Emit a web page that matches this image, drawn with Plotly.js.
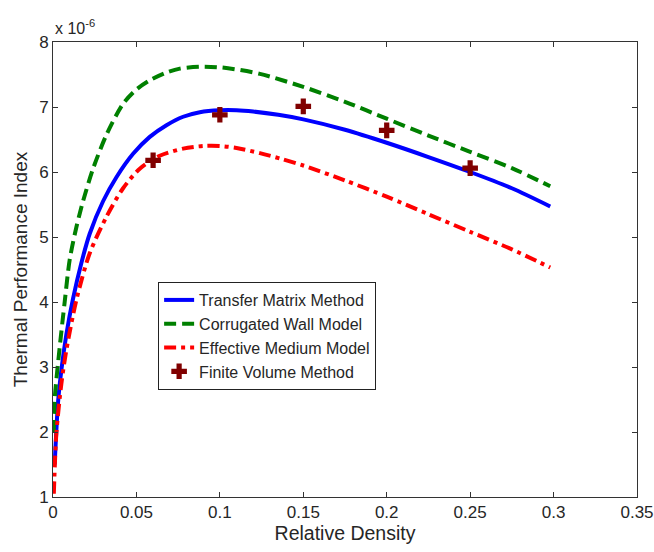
<!DOCTYPE html>
<html>
<head>
<meta charset="utf-8">
<script src="https://cdn.plot.ly/plotly-3.0.1.min.js"></script>
<style>html,body{margin:0;padding:0;background:#fff;}#chart{width:654px;height:552px;}</style>
</head>
<body>
<div id="chart"></div>
<script>
// Values in units of 1e-6
const tmmX = [0.001,0.003,0.005,0.008,0.012,0.017,0.022,0.030,0.038,0.048,0.058,0.068,0.078,0.088,0.1,0.11,0.12,0.135,0.15,0.175,0.2,0.225,0.25,0.275,0.298];
const tmmY = [1.5,2.45,2.95,3.5,4.05,4.6,5.05,5.55,5.92,6.28,6.54,6.72,6.85,6.92,6.95,6.95,6.93,6.88,6.81,6.65,6.45,6.23,6.0,5.75,5.47];

const cwmX = [0.0005,0.001,0.004,0.007,0.010,0.014,0.018,0.024,0.032,0.042,0.05,0.058,0.068,0.076,0.088,0.1,0.112,0.124,0.15,0.175,0.2,0.225,0.25,0.275,0.298];
const cwmY = [2.0,2.5,3.3,4.0,4.65,5.15,5.55,6.05,6.57,7.05,7.27,7.41,7.53,7.59,7.62,7.61,7.57,7.51,7.31,7.08,6.82,6.56,6.31,6.06,5.78];

const emmX = [0.0005,0.002,0.005,0.008,0.014,0.022,0.032,0.042,0.052,0.064,0.078,0.09,0.1,0.11,0.124,0.137,0.15,0.175,0.2,0.225,0.25,0.275,0.298];
const emmY = [1.05,1.97,2.74,3.26,4.03,4.75,5.31,5.75,6.05,6.25,6.36,6.40,6.40,6.37,6.29,6.2,6.10,5.87,5.62,5.35,5.08,4.81,4.53];

const fvmX = [0.06,0.1,0.15,0.2,0.25];
const fvmY = [6.18,6.88,7.01,6.64,6.06];

const xTicks = [0,0.05,0.1,0.15,0.2,0.25,0.3,0.35];
const xTickText = ['0','0.05','0.1','0.15','0.2','0.25','0.3','0.35'];
const yTicks = [1,2,3,4,5,6,7,8];

const font = 'Liberation Sans, Arial, sans-serif';
const txt = '#262626';

const traces = [
  {x: tmmX, y: tmmY, name: 'Transfer Matrix Method', mode: 'lines',
   line: {color: '#0000ff', width: 4, shape: 'spline', smoothing: 0.8}},
  {x: cwmX, y: cwmY, name: 'Corrugated Wall Model', mode: 'lines',
   line: {color: '#008000', width: 4, dash: '12px,6px', shape: 'spline', smoothing: 0.8}},
  {x: emmX, y: emmY, name: 'Effective Medium Model', mode: 'lines',
   line: {color: '#ff0000', width: 4, dash: '12px,5px,4px,5px', shape: 'spline', smoothing: 0.8}},
  {x: fvmX, y: fvmY, name: 'Finite Volume Method', mode: 'markers',
   marker: {symbol: 'cross', color: '#800000', size: 13, line: {width: 0}}}
];

const layout = {
  width: 654, height: 552,
  margin: {l: 53, r: 17, t: 42, b: 55},
  paper_bgcolor: '#ffffff', plot_bgcolor: '#ffffff',
  font: {family: font, color: txt, size: 17},
  showlegend: true,
  legend: {x: 0.18, y: 0.4725, xanchor: 'left', yanchor: 'top',
    bgcolor: '#ffffff', bordercolor: '#222', borderwidth: 1,
    font: {family: font, size: 16, color: txt}, tracegroupgap: 0},
  xaxis: {range: [0, 0.35], tickvals: xTicks, ticktext: xTickText,
    ticks: 'inside', ticklen: 5, tickcolor: '#333', showline: true, linecolor: '#333', linewidth: 1,
    mirror: 'ticks', showgrid: false, zeroline: false,
    tickfont: {family: font, size: 17, color: txt},
    title: {text: 'Relative Density', font: {family: font, size: 19.5, color: txt}, standoff: 4}},
  yaxis: {range: [1, 8], tickvals: yTicks,
    ticks: 'inside', ticklen: 5, tickcolor: '#333', showline: true, linecolor: '#333', linewidth: 1,
    mirror: 'ticks', showgrid: false, zeroline: false,
    tickfont: {family: font, size: 17, color: txt},
    title: {text: 'Thermal Performance Index', font: {family: font, size: 19, color: txt}, standoff: 6}},
  annotations: [{xref: 'paper', yref: 'paper', x: 0, y: 1, xanchor: 'left', yanchor: 'bottom',
    yshift: 3, showarrow: false, text: 'x 10<sup>-6</sup>', font: {family: font, size: 16, color: txt}}]
};

Plotly.newPlot('chart', traces, layout, {displayModeBar: false, staticPlot: true});
</script>
</body>
</html>
